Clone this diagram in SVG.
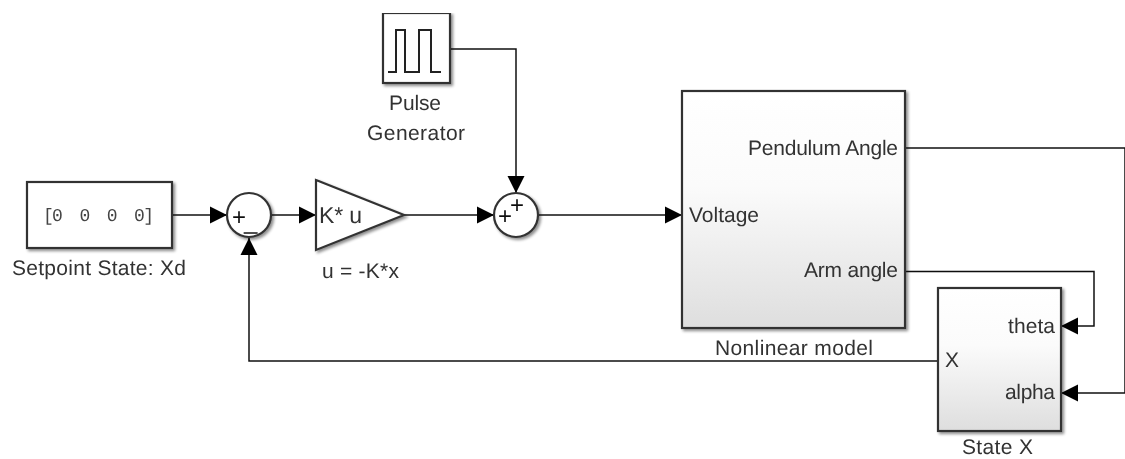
<svg xmlns="http://www.w3.org/2000/svg" width="1125" height="459" viewBox="0 0 1125 459">
<defs>
<linearGradient id="g" x1="0" y1="0" x2="0" y2="1"><stop offset="0" stop-color="#ffffff"/><stop offset="0.4" stop-color="#fbfbfb"/><stop offset="1" stop-color="#dedede"/></linearGradient>
<filter id="s" x="-10%" y="-10%" width="125%" height="125%"><feGaussianBlur in="SourceAlpha" stdDeviation="1.500"/><feOffset dx="2" dy="2"/><feComponentTransfer><feFuncA type="linear" slope="0.45"/></feComponentTransfer><feMerge><feMergeNode/><feMergeNode in="SourceGraphic"/></feMerge></filter>
<filter id="soft" x="0" y="0" width="100%" height="100%"><feGaussianBlur stdDeviation="0.45"/></filter>
<marker id="a" markerUnits="userSpaceOnUse" markerWidth="18" markerHeight="18" refX="17" refY="9" orient="auto"><path d="M0 0.500L17 9L0 17.500Z" fill="#000"/></marker>
</defs>
<style>
.b{stroke:#333;stroke-width:2.200;filter:url(#s)}
.w{fill:#fff}
.m{fill:url(#g)}
.c{fill:none;stroke:#111;stroke-width:1.500}
.ar{marker-end:url(#a)}
text{font-family:"Liberation Sans",Arial,sans-serif;font-size:21px;fill:#333;text-rendering:geometricPrecision}
.mono{font-family:"Liberation Mono",monospace;font-size:18px;fill:#444}
.sg{font-size:24px;fill:#111}
.big{font-size:23px}
</style>
<rect width="1125" height="459" fill="#fff"/>
<g filter="url(#soft)">
<g id="connectors">
<path class="c ar" d="M172 215H227"/>
<path class="c ar" d="M271 215H316"/>
<path class="c ar" d="M404 215H494"/>
<path class="c ar" d="M450 49H516V193"/>
<path class="c ar" d="M538 215H682"/>
<path class="c ar" d="M905 148H1125V393H1061"/>
<path class="c ar" d="M905 271.500H1094V326H1061"/>
<path class="c ar" d="M938 361H249V238"/>
</g>
<g id="setpoint"><rect class="b w" x="27" y="182" width="145" height="66"/><text class="mono" x="43" y="221" textLength="111" lengthAdjust="spacing" xml:space="preserve">[0  0  0  0]</text><text x="12" y="275" textLength="174">Setpoint State: Xd</text></g>
<g id="sum1"><circle class="b w" cx="249" cy="215" r="22"/><text class="sg" x="232" y="225">+</text><text class="sg" x="244" y="229">_</text></g>
<g id="gain"><path class="b w" d="M316 180L404 215L316 250Z"/><text class="big" x="319" y="223" textLength="43">K* u</text><text x="322" y="278" textLength="77">u = -K*x</text></g>
<g id="pulse"><rect class="b w" x="383" y="13" width="67" height="70"/><path d="M388 72H396V30H405V72H419V30H431V72H441" fill="none" stroke="#222" stroke-width="2"/><text x="389" y="110" textLength="52">Pulse</text><text x="367" y="140" textLength="98">Generator</text></g>
<g id="sum2"><circle class="b w" cx="516" cy="215" r="22"/><text class="sg" x="498" y="224">+</text><text class="sg" x="510" y="213">+</text></g>
<g id="nonlinear"><rect class="b m" x="682" y="91" width="223" height="237"/><text x="689" y="222" textLength="70">Voltage</text><text x="748" y="155" textLength="150">Pendulum Angle</text><text x="804" y="277" textLength="94">Arm angle</text><text x="715" y="355" textLength="158">Nonlinear model</text></g>
<g id="statex"><rect class="b m" x="938" y="288" width="123" height="143"/><text x="945" y="367" textLength="13">X</text><text x="1008" y="333" textLength="47">theta</text><text x="1005" y="399" textLength="50">alpha</text><text x="962" y="454" textLength="71">State X</text></g>
</g>
</svg>
